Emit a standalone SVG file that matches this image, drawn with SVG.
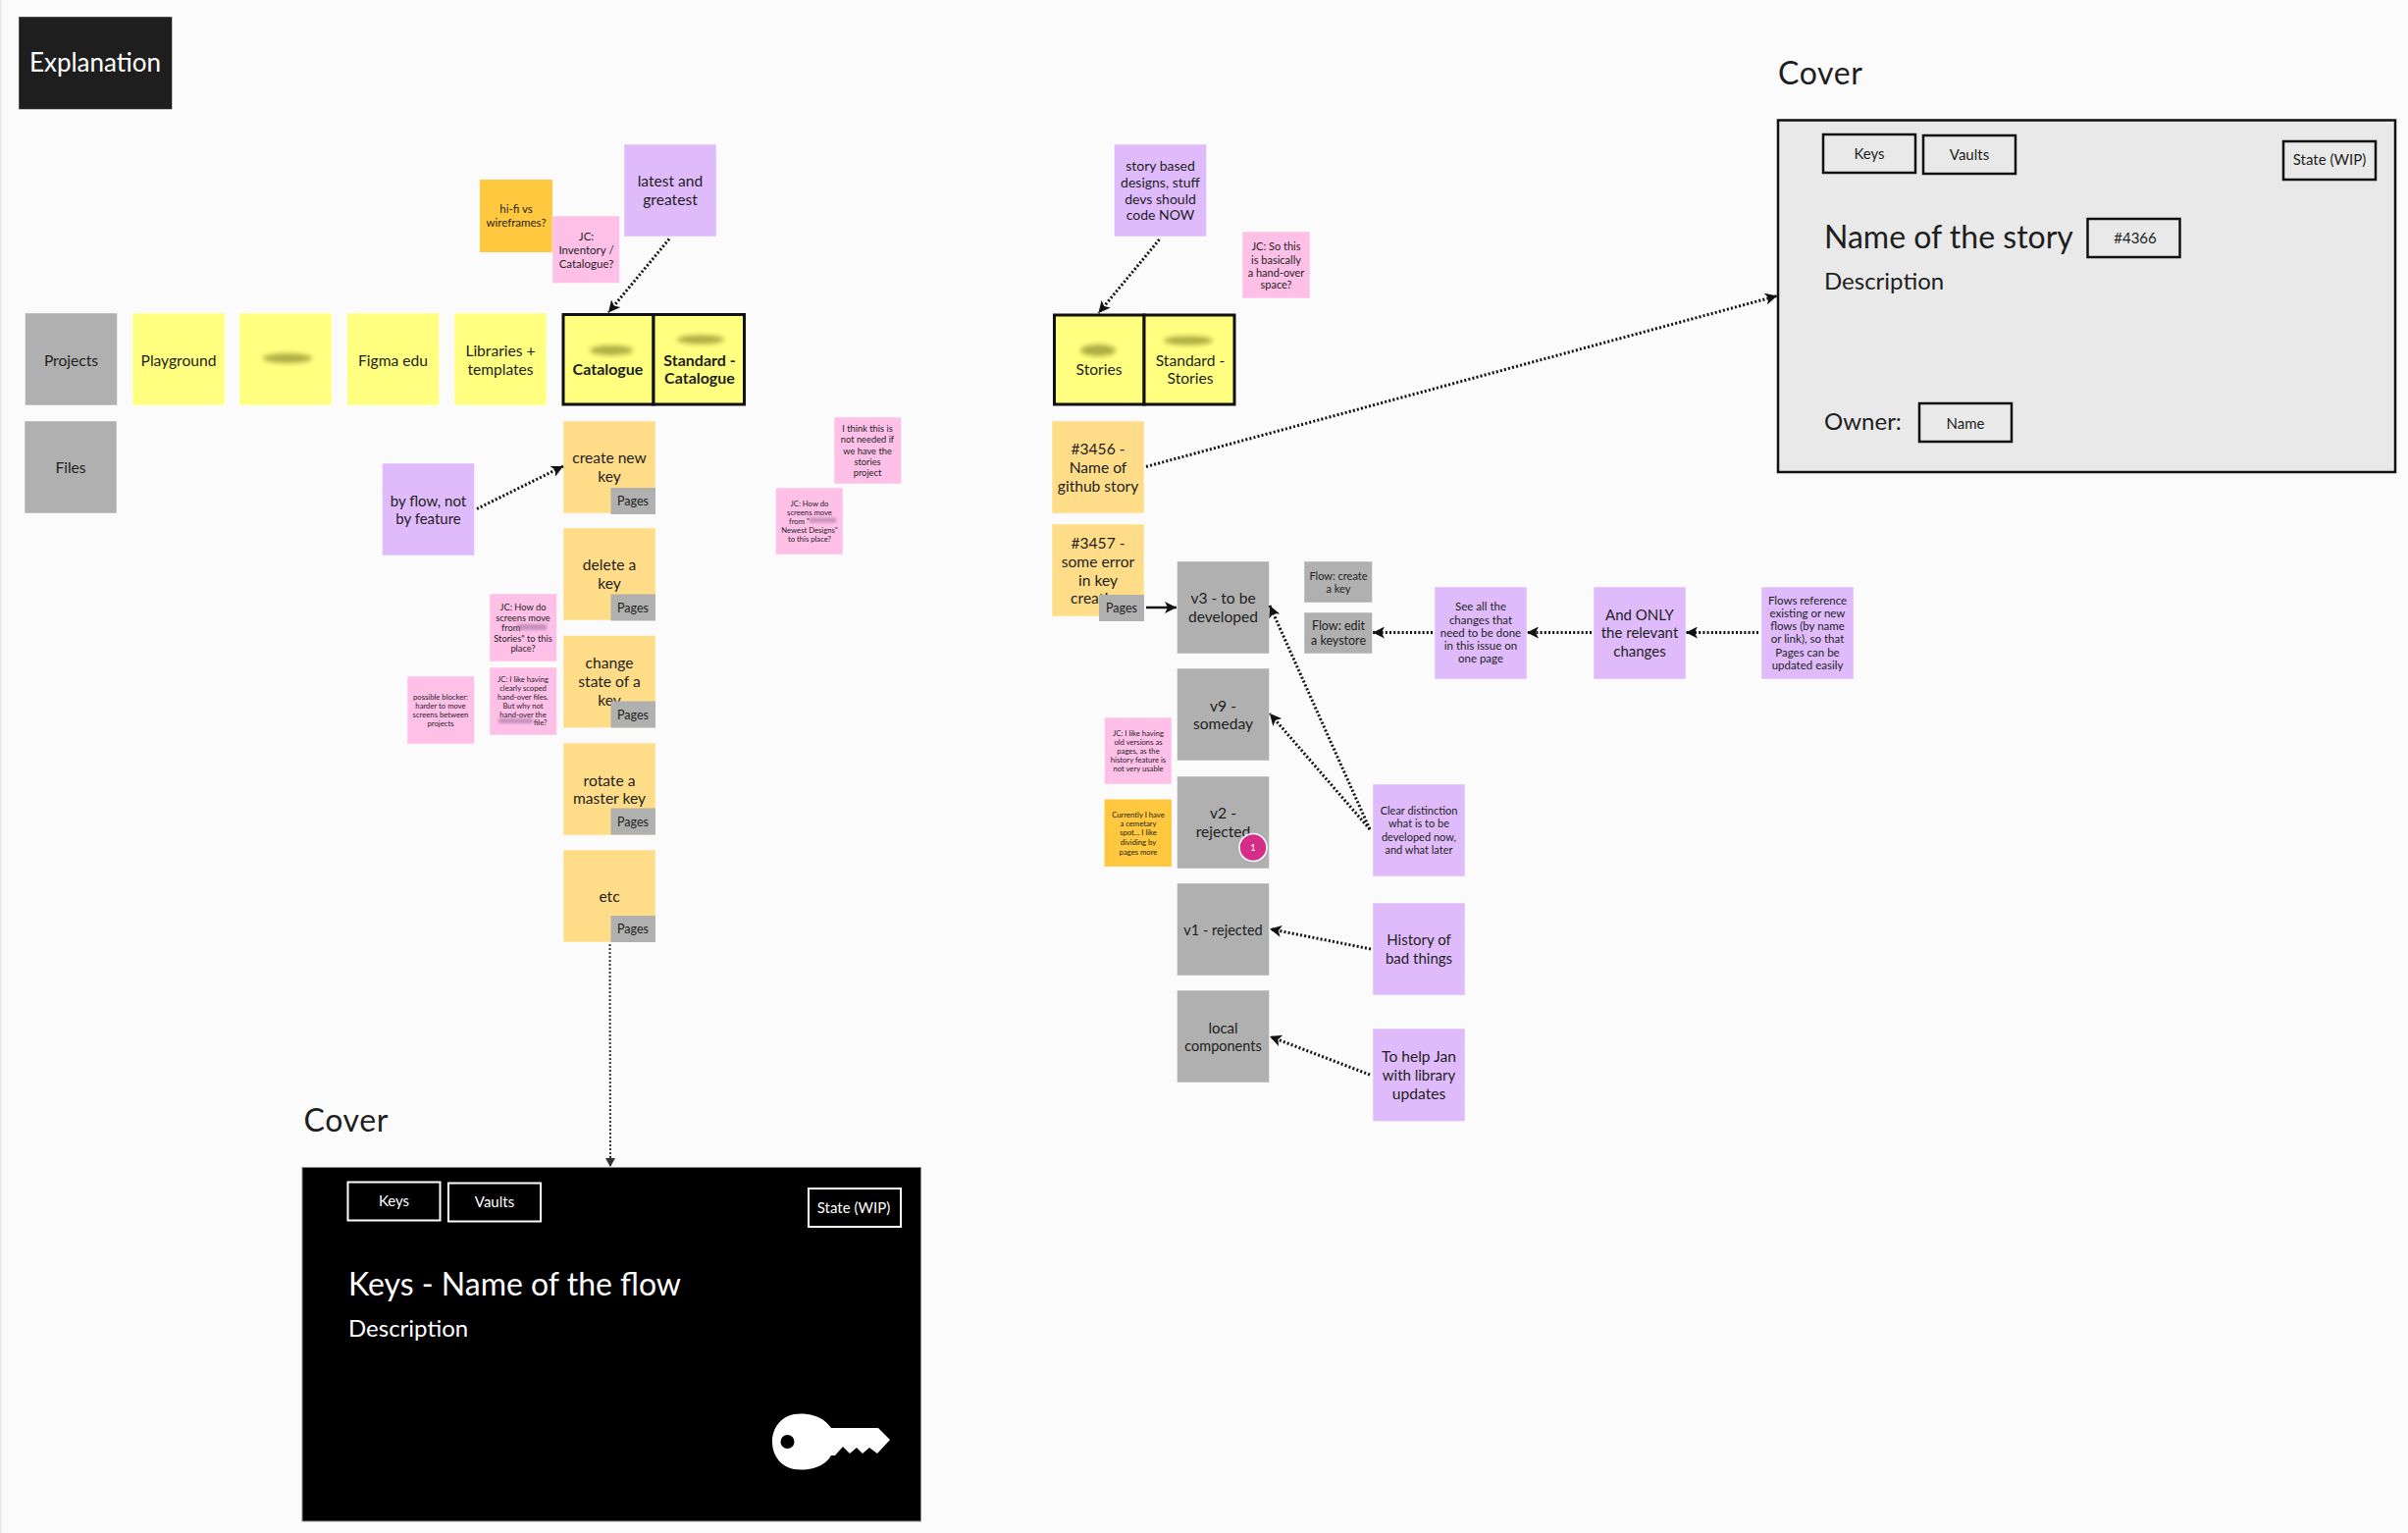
<svg xmlns="http://www.w3.org/2000/svg" width="2454" height="1562" viewBox="0 0 2454 1562">
<style>
text{font-family:"Lato","Open Sans","Liberation Sans",sans-serif;fill:#1e1e1e;transform:translateY(1px)}
.c text,text.c{text-anchor:middle}
.s{stroke:#fff;stroke-opacity:.45;stroke-width:1}
.y{fill:#ffff80}.g{fill:#b0b0b0}.o{fill:#ffdd88}.p{fill:#e0bbfc}.k{fill:#ffc0e8}.a{fill:#ffc83f}
.b{stroke:#111;stroke-width:3}
.f16{font-size:15.6px}.f15{font-size:15px}.fb{font-size:16px;font-weight:700}.f14{font-size:14px}.f12{font-size:12.5px}.f115{font-size:11.5px}.f11{font-size:11px}.f10{font-size:11px}.f9{font-size:9.3px}.f8{font-size:7.7px}
.cv{font-size:32px;letter-spacing:.02em}
.t{fill:none;stroke:#111;stroke-width:2.5}
.w{fill:none;stroke:#fff;stroke-width:2}
.lt text,text.lt{fill:#fff}
.dot{fill:none;stroke:#111;stroke-width:3;stroke-dasharray:2 2.2}
.blur{fill:#8a8b2c;opacity:.7;filter:url(#bl)}
.blurp{fill:#a0709a;opacity:.6;filter:url(#bl2)}
</style>
<defs>
<filter id="bl" x="-30%" y="-80%" width="160%" height="260%"><feGaussianBlur stdDeviation="2.5"/></filter>
<filter id="bl2" x="-30%" y="-100%" width="160%" height="300%"><feGaussianBlur stdDeviation="1.5"/></filter>
<marker id="ah" markerUnits="userSpaceOnUse" markerWidth="14" markerHeight="12" refX="12" refY="6" orient="auto"><path d="M0 0L12 6L0 12L3 6Z" fill="#111"/></marker>
<marker id="ah2" markerUnits="userSpaceOnUse" markerWidth="10" markerHeight="12" refX="9" refY="5" orient="auto"><path d="M0 0L9 5L0 10Z" fill="#333"/></marker>
</defs>
<rect width="2454" height="1562" fill="#fbfbfb"/>
<rect width="1.5" height="1562" fill="#e8e8e8"/>

<g id="explanation"><rect x="19" y="17" width="156.5" height="94.5" fill="#1e1e1e" class="s"/><text class="c lt" x="97" y="72" style="font-size:26px">Explanation</text></g>

<g id="projects" class="c"><rect class="g s" x="25.5" y="319" width="94" height="94"/><text class="f16" x="72.5" y="372">Projects</text></g>
<g id="files" class="c"><rect class="g s" x="25" y="429" width="94" height="94"/><text class="f16" x="72" y="481">Files</text></g>
<g id="playground" class="c"><rect class="y s" x="135" y="319" width="94" height="94"/><text class="f16" x="182" y="372">Playground</text></g>
<g id="redacted-project"><rect class="y s" x="244" y="319" width="94" height="94"/><ellipse class="blur" cx="293" cy="365" rx="25" ry="5"/></g>
<g id="figma-edu" class="c"><rect class="y s" x="353.5" y="319" width="94" height="94"/><text class="f16" x="400.5" y="372">Figma edu</text></g>
<g id="libraries" class="c"><rect class="y s" x="463" y="319" width="94" height="94"/><text class="f16" x="510" y="362">Libraries +</text><text class="f16" x="510" y="381">templates</text></g>
<g id="catalogue" class="c"><rect class="y b" x="574" y="320.5" width="92" height="91.5"/><ellipse class="blur" cx="623" cy="357" rx="22" ry="5"/><text class="fb" x="619.5" y="381">Catalogue</text></g>
<g id="standard-catalogue" class="c"><rect class="y b" x="666" y="320.5" width="92.5" height="91.5"/><ellipse class="blur" cx="714" cy="346" rx="24" ry="4.5"/><text class="fb" x="713" y="371.5">Standard -</text><text class="fb" x="713" y="390">Catalogue</text></g>

<g id="hifi" class="c"><rect class="a" x="489" y="183" width="74" height="74"/><text x="526" y="216" style="font-size:11.5px">hi-fi vs</text><text x="526" y="230" style="font-size:11.5px">wireframes?</text></g>
<g id="jc-inventory" class="c"><rect class="k s" x="563" y="220" width="68.5" height="68.5"/><text class="f115" x="597.5" y="244">JC:</text><text class="f115" x="597.5" y="258">Inventory /</text><text class="f115" x="597.5" y="272">Catalogue?</text></g>
<g id="latest" class="c"><rect class="p s" x="636" y="147" width="94" height="94"/><text class="f16" x="683" y="189">latest and</text><text class="f16" x="683" y="208">greatest</text></g>

<g id="by-flow" class="c"><rect class="p s" x="389.5" y="472" width="94" height="94"/><text class="f15" x="436.5" y="515">by flow, not</text><text class="f15" x="436.5" y="533">by feature</text></g>

<g id="flow-create" class="c"><rect class="o s" x="574" y="429" width="94" height="94"/><text class="f16" x="621" y="471">create new</text><text class="f16" x="621" y="490">key</text><rect class="g" x="622.5" y="497" width="45.5" height="27"/><text class="f12" x="645" y="514">Pages</text></g>
<g id="flow-delete" class="c"><rect class="o s" x="574" y="538" width="94" height="94"/><text class="f16" x="621" y="580">delete a</text><text class="f16" x="621" y="599">key</text><rect class="g" x="622.5" y="605.5" width="45.5" height="27"/><text class="f12" x="645" y="623">Pages</text></g>
<g id="flow-state" class="c"><rect class="o s" x="574" y="647.5" width="94" height="94"/><text class="f16" x="621" y="680">change</text><text class="f16" x="621" y="699">state of a</text><text class="f16" x="621" y="718">key</text><rect class="g" x="622.5" y="714.5" width="45.5" height="27"/><text class="f12" x="645" y="732">Pages</text></g>
<g id="flow-rotate" class="c"><rect class="o s" x="574" y="757" width="94" height="94"/><text class="f16" x="621" y="799.5">rotate a</text><text class="f16" x="621" y="818">master key</text><rect class="g" x="622.5" y="823.5" width="45.5" height="27"/><text class="f12" x="645" y="841">Pages</text></g>
<g id="flow-etc" class="c"><rect class="o s" x="574" y="866" width="94" height="94"/><text class="f16" x="621" y="918">etc</text><rect class="g" x="622.5" y="933" width="45.5" height="27"/><text class="f12" x="645" y="950">Pages</text></g>

<g id="blocker" class="c"><rect class="k s" x="415" y="689" width="68.5" height="69"/><text class="f8" x="449" y="711.5">possible blocker:</text><text class="f8" x="449" y="720.5">harder to move</text><text class="f8" x="449" y="729.5">screens between</text><text class="f8" x="449" y="738.5">projects</text></g>
<g id="jc-move-1" class="c"><rect class="k s" x="499" y="605" width="68.5" height="69"/><text class="f9" x="533" y="621">JC: How do</text><text class="f9" x="533" y="632">screens move</text><text class="f9" x="511" y="642" style="text-anchor:start">from</text><rect class="blurp" x="527" y="636" width="30" height="6"/><text class="f9" x="533" y="653">Stories" to this</text><text class="f9" x="533" y="663">place?</text></g>
<g id="jc-scoped" class="c"><rect class="k s" x="499" y="680" width="68.5" height="69"/><text class="f8" x="533" y="694">JC: I like having</text><text class="f8" x="533" y="703">clearly scoped</text><text class="f8" x="533" y="712">hand-over files.</text><text class="f8" x="533" y="721">But why not</text><text class="f8" x="533" y="730">hand-over the</text><rect class="blurp" x="508" y="732" width="35" height="5"/><text class="f8" x="557.5" y="738" style="text-anchor:end">file?</text></g>
<g id="not-needed" class="c"><rect class="k s" x="850" y="425" width="68.5" height="68"/><text class="f9" x="884" y="438.5">I think this is</text><text class="f9" x="884" y="450">not needed if</text><text class="f9" x="884" y="461.5">we have the</text><text class="f9" x="884" y="472.5">stories</text><text class="f9" x="884" y="484">project</text></g>
<g id="jc-move-2" class="c"><rect class="k s" x="790.5" y="497" width="68.5" height="68"/><text class="f8" x="825" y="514.5">JC: How do</text><text class="f8" x="825" y="523.5">screens move</text><text class="f8" x="804" y="532.5" style="text-anchor:start">from "</text><rect class="blurp" x="825" y="527.5" width="27" height="5"/><text class="f8" x="825" y="541.5">Newest Designs"</text><text class="f8" x="825" y="550.5">to this place?</text></g>

<g id="story-based" class="c"><rect class="p s" x="1135.5" y="147" width="94" height="94"/><text class="f14" x="1182.5" y="173">story based</text><text class="f14" x="1182.5" y="190">designs, stuff</text><text class="f14" x="1182.5" y="207">devs should</text><text class="f14" x="1182.5" y="223">code NOW</text></g>
<g id="jc-handover" class="c"><rect class="k s" x="1266" y="236" width="69" height="68"/><text class="f10" x="1300.5" y="254">JC: So this</text><text class="f10" x="1300.5" y="267.5">is basically</text><text class="f10" x="1300.5" y="280.5">a hand-over</text><text class="f10" x="1300.5" y="293">space?</text></g>
<g id="stories" class="c"><rect class="y b" x="1074.5" y="321" width="91.5" height="91"/><ellipse class="blur" cx="1119" cy="357" rx="18" ry="6"/><text class="f16" x="1120" y="381">Stories</text></g>
<g id="standard-stories" class="c"><rect class="y b" x="1166" y="321" width="92" height="91"/><ellipse class="blur" cx="1211" cy="347" rx="25" ry="4.5"/><text class="f16" x="1213" y="372">Standard -</text><text class="f16" x="1213" y="390">Stories</text></g>
<g id="story-3456" class="c"><rect class="o s" x="1072" y="429" width="94" height="94"/><text class="f16" x="1119" y="462">#3456 -</text><text class="f16" x="1119" y="481">Name of</text><text class="f16" x="1119" y="500">github story</text></g>
<g id="story-3457" class="c"><rect class="o s" x="1072" y="534" width="94" height="94"/><text class="f16" x="1119" y="557.5">#3457 -</text><text class="f16" x="1119" y="576.5">some error</text><text class="f16" x="1119" y="595.5">in key</text><text class="f16" x="1119" y="614">creation</text><rect class="g" x="1120" y="606" width="46" height="27"/><text class="f12" x="1143" y="623">Pages</text></g>

<g id="v3" class="c"><rect class="g s" x="1199.5" y="572" width="94" height="94"/><text class="f16" x="1246.5" y="613.5">v3 - to be</text><text class="f16" x="1246.5" y="632.5">developed</text></g>
<g id="v9" class="c"><rect class="g s" x="1199.5" y="681" width="94" height="94"/><text class="f16" x="1246.5" y="723.5">v9 -</text><text class="f16" x="1246.5" y="742">someday</text></g>
<g id="v2" class="c"><rect class="g s" x="1199.5" y="791" width="94" height="94"/><text class="f16" x="1246.5" y="832.5">v2 -</text><text class="f16" x="1246.5" y="851.5">rejected</text><circle cx="1277" cy="863.5" r="14" fill="#d62d8a" stroke="#fff" stroke-width="1.5"/><text x="1277" y="866" style="font-size:9.5px;fill:#fff">1</text></g>
<g id="v1" class="c"><rect class="g s" x="1199.5" y="900" width="94" height="94"/><text x="1246.5" y="952" style="font-size:14.5px">v1 - rejected</text></g>
<g id="local" class="c"><rect class="g s" x="1199.5" y="1009" width="94" height="94"/><text class="f15" x="1246.5" y="1052">local</text><text x="1246.5" y="1070" style="font-size:14.5px">components</text></g>
<g id="flow-create-key" class="c"><rect class="g s" x="1329" y="572" width="69.5" height="42"/><text class="f11" x="1364" y="590">Flow: create</text><text class="f11" x="1364" y="603">a key</text></g>
<g id="flow-edit" class="c"><rect class="g s" x="1329" y="624" width="69.5" height="42"/><text style="font-size:12.5px" x="1364" y="641">Flow: edit</text><text style="font-size:12.5px" x="1364" y="656">a keystore</text></g>
<g id="see-all" class="c"><rect class="p s" x="1462" y="598" width="94" height="94"/><text class="f115" x="1509" y="621">See all the</text><text class="f115" x="1509" y="635">changes that</text><text class="f115" x="1509" y="648">need to be done</text><text class="f115" x="1509" y="661">in this issue on</text><text class="f115" x="1509" y="674">one page</text></g>
<g id="and-only" class="c"><rect class="p s" x="1624" y="598" width="94" height="94"/><text class="f15" x="1671" y="631">And ONLY</text><text class="f15" x="1671" y="649">the relevant</text><text class="f15" x="1671" y="668">changes</text></g>
<g id="flows-ref" class="c"><rect class="p s" x="1795" y="598" width="94" height="94"/><text class="f115" x="1842" y="615">Flows reference</text><text class="f115" x="1842" y="628">existing or new</text><text class="f115" x="1842" y="641">flows (by name</text><text class="f115" x="1842" y="654">or link), so that</text><text class="f115" x="1842" y="668">Pages can be</text><text class="f115" x="1842" y="681">updated easily</text></g>
<g id="clear" class="c"><rect class="p s" x="1399" y="799" width="94" height="94"/><text class="f11" x="1446" y="829">Clear distinction</text><text class="f11" x="1446" y="842">what is to be</text><text class="f11" x="1446" y="856">developed now,</text><text class="f11" x="1446" y="869">and what later</text></g>
<g id="history" class="c"><rect class="p s" x="1399" y="920" width="94" height="94"/><text class="f15" x="1446" y="962">History of</text><text class="f15" x="1446" y="981">bad things</text></g>
<g id="help-jan" class="c"><rect class="p s" x="1399" y="1048" width="94" height="94.5"/><text class="f16" x="1446" y="1081">To help Jan</text><text class="f15" x="1446" y="1100">with library</text><text class="f16" x="1446" y="1119">updates</text></g>
<g id="jc-old" class="c"><rect class="k s" x="1125.5" y="731" width="68.5" height="68"/><text class="f8" x="1160" y="749">JC: I like having</text><text class="f8" x="1160" y="758">old versions as</text><text class="f8" x="1160" y="767">pages, as the</text><text class="f8" x="1160" y="776">history feature is</text><text class="f8" x="1160" y="785">not very usable</text></g>
<g id="cemetary" class="c"><rect class="a" x="1125.5" y="814.5" width="68.5" height="68.5"/><text class="f8" x="1160" y="832">Currently I have</text><text class="f8" x="1160" y="841">a cemetary</text><text class="f8" x="1160" y="850">spot... I like</text><text class="f8" x="1160" y="860">dividing by</text><text class="f8" x="1160" y="870">pages more</text></g>

<g id="cover-story">
<text class="cv" x="1812" y="85">Cover</text>
<rect x="1812" y="122.5" width="629" height="358.5" fill="#e9e9e9" stroke="#111" stroke-width="2.5"/>
<g class="c"><rect class="t" x="1858" y="137" width="94" height="39"/><text class="f15" x="1905" y="161">Keys</text>
<rect class="t" x="1960" y="138" width="94" height="39"/><text class="f15" x="2007" y="162">Vaults</text>
<rect class="t" x="2327" y="144" width="94" height="39"/><text class="f15" x="2374" y="167">State (WIP)</text>
<rect class="t" x="2127.5" y="223" width="94" height="39"/><text class="f15" x="2176" y="247">#4366</text>
<rect class="t" x="1956" y="411" width="94" height="39"/><text class="f15" x="2003" y="436">Name</text></g>
<text x="1859" y="252" style="font-size:32px">Name of the story</text>
<text x="1859" y="294" style="font-size:24px">Description</text>
<text x="1859" y="437" style="font-size:24px">Owner:</text>
</g>

<g id="cover-flow">
<text class="cv" x="309.5" y="1152">Cover</text>
<rect x="308" y="1189.5" width="630.5" height="360.5" fill="#000" stroke="#888" stroke-width="1"/>
<g class="c lt"><rect class="w" x="354.5" y="1204.5" width="94" height="39"/><text class="f15" x="401.5" y="1228">Keys</text>
<rect class="w" x="457" y="1205.5" width="94" height="39"/><text class="f15" x="504" y="1229">Vaults</text>
<rect class="w" x="824" y="1211" width="94" height="39"/><text class="f15" x="870" y="1235">State (WIP)</text></g>
<text class="lt" x="355" y="1319" style="font-size:32px">Keys - Name of the flow</text>
<text class="lt" x="355" y="1361" style="font-size:24px">Description</text>
<path d="M816 1440.5C834 1440.5 843 1449 847 1455L895 1455L907 1467L894 1481L886 1475L879 1481L873 1475L866 1481L859 1474L851 1483L847 1483C843 1490 834 1497.5 816 1497.5C797 1497.5 787 1484 787 1469C787 1454 797 1440.5 816 1440.5ZM802.5 1462A7 7 0 1 0 802.5 1476A7 7 0 1 0 802.5 1462Z" fill="#fff" fill-rule="evenodd"/>
</g>

<g id="connectors">
<line class="dot" x1="682" y1="243.5" x2="620" y2="318.5" marker-end="url(#ah)"/>
<line class="dot" x1="486" y1="518.5" x2="574" y2="475" marker-end="url(#ah)"/>
<line class="dot" x1="1181.5" y1="244" x2="1119.5" y2="319" marker-end="url(#ah)"/>
<line class="dot" x1="1168" y1="475.5" x2="1811" y2="301.5" marker-end="url(#ah)"/>
<line x1="1168" y1="619" x2="1199" y2="619" stroke="#111" stroke-width="2.5" marker-end="url(#ah)"/>
<line class="dot" x1="1396" y1="845" x2="1294" y2="617" marker-end="url(#ah)"/>
<line class="dot" x1="1396" y1="845" x2="1294" y2="727" marker-end="url(#ah)"/>
<line class="dot" x1="1397" y1="967" x2="1294" y2="946.5" marker-end="url(#ah)"/>
<line class="dot" x1="1396" y1="1095" x2="1294" y2="1056" marker-end="url(#ah)"/>
<line class="dot" x1="1460" y1="644.5" x2="1399" y2="644.5" marker-end="url(#ah)"/>
<line class="dot" x1="1622" y1="644.5" x2="1556" y2="644.5" marker-end="url(#ah)"/>
<line class="dot" x1="1792" y1="644.5" x2="1718" y2="644.5" marker-end="url(#ah)"/>
<line x1="621.5" y1="962" x2="622" y2="1189" fill="none" stroke="#333" stroke-width="2" stroke-dasharray="2 2" marker-end="url(#ah2)"/>
</g>
</svg>
